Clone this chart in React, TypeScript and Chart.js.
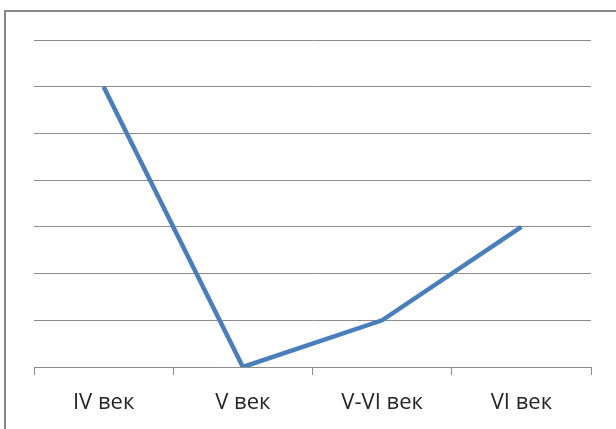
import React, { useEffect, useRef } from "react";
import { Chart, registerables } from "chart.js";

Chart.register(...registerables);

const categories: string[] = ["IV век", "V век", "V-VI век", "VI век"];
const values: number[] = [6, 0, 1, 3];
const yMin = 0;
const yMax = 7;

export default function App() {
  const ref = useRef<HTMLCanvasElement | null>(null);

  useEffect(() => {
    document.body.style.margin = "0";
    const ctx = ref.current!.getContext("2d")!;
    const chart = new Chart(ctx, {
      type: "line",
      data: {
        labels: categories,
        datasets: [
          {
            data: values,
            borderColor: "#4a7ebb",
            borderWidth: 4.5,
            pointRadius: 0,
            tension: 0,
            fill: false,
          },
        ],
      },
      options: {
        animation: false,
        responsive: false,
        maintainAspectRatio: false,
        layout: { padding: { left: 34, right: 25, top: 40, bottom: 0 } },
        plugins: { legend: { display: false }, tooltip: { enabled: false } },
        scales: {
          x: {
            offset: true,
            afterFit: (scale: any) => {
              scale.height = 62;
            },
            grid: {
              offset: true,
              drawOnChartArea: false,
              drawTicks: true,
              tickLength: 8,
              color: "#8c8c8c",
            },
            border: { display: true, color: "#8c8c8c", width: 1 },
            ticks: {
              padding: 15,
              color: "#262626",
              font: { family: "'Open Sans', 'Noto Sans', sans-serif", size: 22 },
              maxRotation: 0,
            },
          },
          y: {
            min: yMin,
            max: yMax,
            ticks: { display: false, stepSize: 1 },
            grid: { color: "#8c8c8c", drawTicks: false, lineWidth: 1 },
            border: { display: false },
          },
        },
      },
    });
    return () => chart.destroy();
  }, []);

  return (
    <div style={{ position: "relative", width: 616, height: 429, overflow: "hidden", background: "#fff" }}>
      <div
        style={{
          position: "absolute",
          left: 4,
          top: 10,
          width: 700,
          height: 500,
          border: "2px solid #888",
          boxSizing: "border-box",
        }}
      />
      <canvas ref={ref} width={616} height={429} style={{ position: "absolute", left: 0, top: 0 }} />
    </div>
  );
}
